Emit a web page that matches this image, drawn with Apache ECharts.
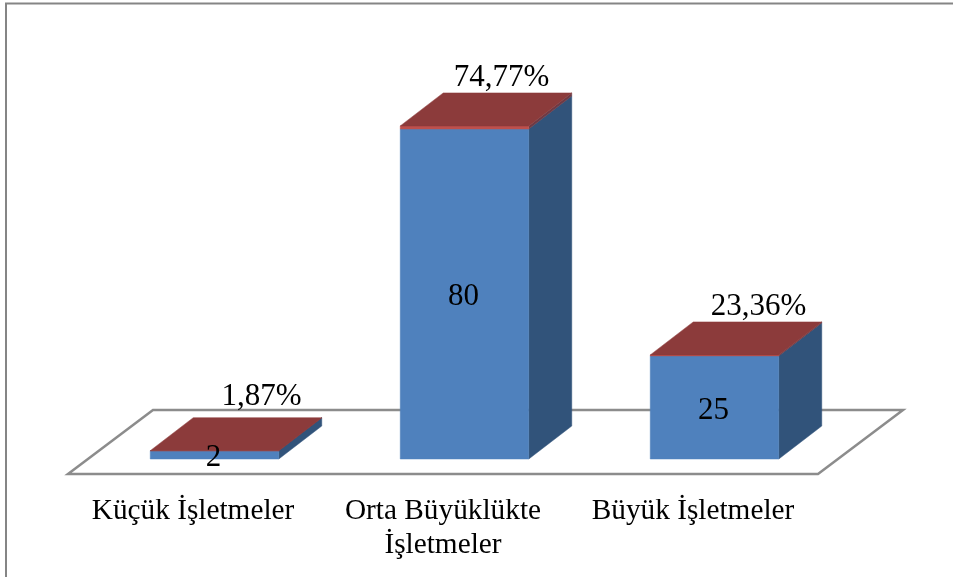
<!DOCTYPE html>
<html>
<head>
<meta charset="utf-8">
<style>
  html, body { margin: 0; padding: 0; background: #fff; }
  #myChart { width: 953px; height: 577px; }
</style>
</head>
<body>
<div id="myChart"></div>
<script src="https://cdn.jsdelivr.net/npm/echarts@6/dist/echarts.min.js"></script>
<script>
const categories = ['Küçük İşletmeler', 'Orta Büyüklükte\nİşletmeler', 'Büyük İşletmeler']
const counts = [2, 80, 25]
const shares = [1.87, 74.77, 23.36]
const shareLabels = ['1,87%', '74,77%', '23,36%']

const FONT = '"Liberation Serif", serif'
// fake 3d: how far the bars sit into the floor, and how deep they are
const inset = [21.5, -15]
const depth = [43, -33]
const floorDepth = [85, -64]
const pctOffset = [[47, -54], [37, -48], [44, -48]]
const countOffset = [-1, 3]

function quad (a, b, c, d, fill) {
  return {
    type: 'polygon',
    shape: { points: [a, b, c, d] },
    style: { fill: fill, stroke: fill, lineWidth: 0.5 }
  }
}

// one box of the stack, from value v0 up to v1
function box (api, i, v0, v1, colors) {
  const c0 = api.coord([i, v0])
  const c1 = api.coord([i, v1])
  const w = api.size([1, 0])[0] * 0.514
  const l = c0[0] + inset[0] - w / 2
  const r = l + w
  const y0 = c0[1] + inset[1]
  const y1 = c1[1] + inset[1]
  const dx = depth[0]
  const dy = depth[1]
  const out = [
    quad([r, y0], [r + dx, y0 + dy], [r + dx, y1 + dy], [r, y1], colors.side),
    quad([l, y0], [r, y0], [r, y1], [l, y1], colors.front)
  ]
  if (colors.top) {
    out.push(quad([l, y1], [r, y1], [r + dx, y1 + dy], [l + dx, y1 + dy], colors.top))
  }
  return out
}

function renderFloor (params, api) {
  if (params.dataIndex !== 0) return
  const half = api.size([1, 0])[0] / 2
  const left = api.coord([0, 0])[0] - half
  const right = api.coord([2, 0])[0] + half
  const y = api.coord([0, 0])[1]
  return {
    type: 'polygon',
    shape: {
      points: [
        [left, y],
        [right, y],
        [right + floorDepth[0], y + floorDepth[1]],
        [left + floorDepth[0], y + floorDepth[1]]
      ]
    },
    style: { fill: '#fff', stroke: '#8c8c8c', lineWidth: 2.5 }
  }
}

function renderBar (params, api) {
  const i = params.dataIndex
  const count = api.value(1)
  const share = api.value(2) / 100
  const front = api.coord([i, count / 2])
  const top = api.coord([i, count + share])
  const children = box(api, i, 0, count, { front: '#4f81bd', side: '#31537a' })
    .concat(box(api, i, count, count + share, { front: '#bd504d', side: '#6e3a45', top: '#8c3b3b' }))
  children.push({
    type: 'text',
    style: {
      text: String(count),
      x: front[0] + inset[0] + countOffset[0],
      y: front[1] + inset[1] + countOffset[1],
      align: 'center',
      verticalAlign: 'middle',
      font: '31px ' + FONT,
      fill: '#000'
    }
  })
  children.push({
    type: 'text',
    style: {
      text: shareLabels[i],
      x: top[0] + inset[0] + pctOffset[i][0],
      y: top[1] + inset[1] + pctOffset[i][1],
      align: 'center',
      verticalAlign: 'middle',
      font: '31px ' + FONT,
      fill: '#000'
    }
  })
  return { type: 'group', children: children }
}

const myChart = echarts.init(document.getElementById('myChart'), null, { renderer: 'canvas' })
myChart.setOption({
  animation: false,
  backgroundColor: '#fff',
  grid: { left: 68, right: 135, top: 144, bottom: 103 },
  xAxis: {
    type: 'category',
    data: categories,
    axisLine: { show: false },
    axisTick: { show: false },
    axisLabel: {
      interval: 0,
      margin: 20,
      fontFamily: FONT,
      fontSize: 29.3,
      lineHeight: 34,
      color: '#000'
    }
  },
  yAxis: {
    type: 'value',
    min: 0,
    max: 80,
    show: false
  },
  graphic: [
    {
      type: 'polyline',
      shape: { points: [[6, 577], [6, 3.5], [953, 3.5]] },
      style: { fill: 'none', stroke: '#858585', lineWidth: 2 }
    }
  ],
  series: [
    {
      name: 'floor',
      type: 'custom',
      renderItem: renderFloor,
      encode: { x: 0, y: 1 },
      data: counts.map((v, i) => [i, 0]),
      silent: true,
      z: 1
    },
    {
      name: 'bars',
      type: 'custom',
      renderItem: renderBar,
      encode: { x: 0, y: 1 },
      clip: false,
      data: counts.map((v, i) => [i, v, shares[i]]),
      z: 2
    }
  ]
})
</script>
</body>
</html>
